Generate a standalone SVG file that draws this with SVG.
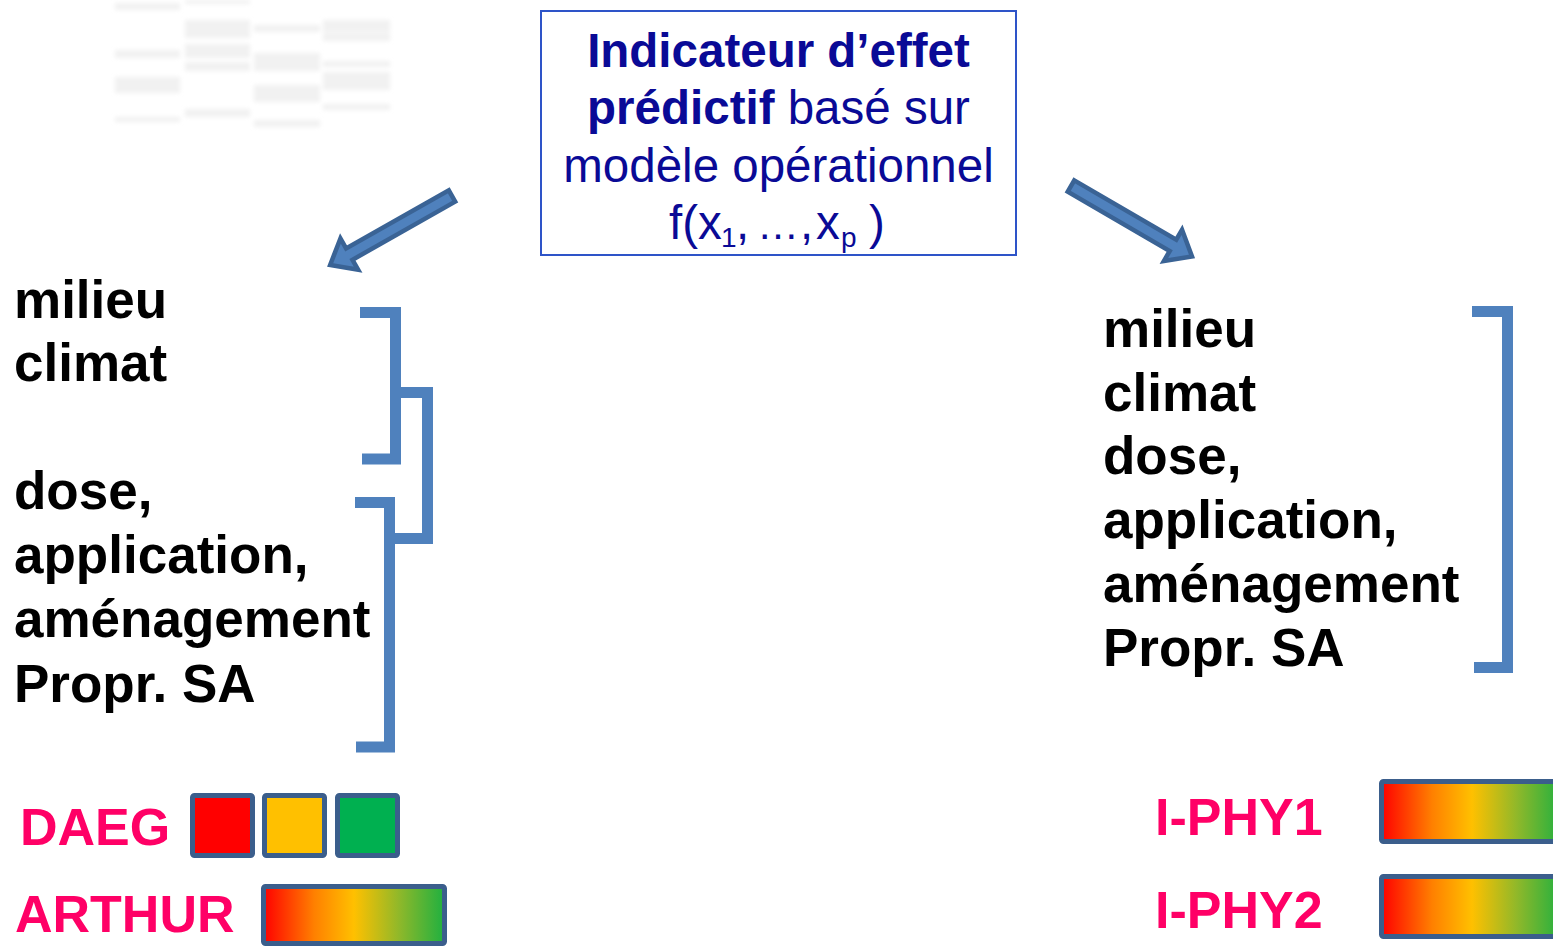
<svg xmlns="http://www.w3.org/2000/svg" width="1553" height="946" viewBox="0 0 1553 946">
  <style>
    .title { font-family: "Liberation Sans", Arial, sans-serif; font-size: 47.5px; fill: #0a0a96; }
    .b { font-weight: bold; }
    .sub { font-size: 28px; }
    .dots { font-size: 42px; }
    .var { font-family: "Liberation Sans", Arial, sans-serif; font-size: 53px; font-weight: bold; fill: #000000; }
    .ind { font-family: "Liberation Sans", Arial, sans-serif; font-size: 52px; font-weight: bold; fill: #ff0066; }
    .brace { fill: none; stroke: #4f81bd; stroke-width: 11; stroke-linejoin: miter; }
    .blk { fill: #4f81bd; stroke: #3a6395; stroke-width: 4.5; stroke-linejoin: miter; }
    .sw { stroke: #3b5e8c; stroke-width: 5; }
    .ghost { fill: #f1f1f1; }
  </style>
  <defs>
    <linearGradient id="scale" x1="0" y1="0" x2="1" y2="0">
      <stop offset="0" stop-color="#ff0000"/>
      <stop offset="0.28" stop-color="#ff8000"/>
      <stop offset="0.5" stop-color="#ffc000"/>
      <stop offset="0.75" stop-color="#8fb82a"/>
      <stop offset="1" stop-color="#1fb040"/>
    </linearGradient>
    <filter id="haze" x="-10%" y="-10%" width="120%" height="120%">
      <feGaussianBlur stdDeviation="2"/>
    </filter>
    <!-- block arrow pointing along +x, tail at the origin -->
    <polygon id="block-arrow" class="blk" points="0,-6.5 118,-6.5 118,-18 140,0 118,18 118,6.5 0,6.5"/>
  </defs>

  <!-- faint table in the top-left corner -->
  <g id="faint-table" class="ghost" filter="url(#haze)">
    <rect x="115" y="3" width="65" height="7"/>
    <rect x="115" y="50" width="65" height="8"/>
    <rect x="115" y="77" width="65" height="16"/>
    <rect x="115" y="117" width="65" height="5"/>
    <rect x="185" y="0" width="65" height="4"/>
    <rect x="185" y="20" width="65" height="18"/>
    <rect x="185" y="44" width="65" height="14"/>
    <rect x="185" y="62" width="65" height="9"/>
    <rect x="185" y="109" width="65" height="8"/>
    <rect x="254" y="25" width="66" height="7"/>
    <rect x="254" y="53" width="66" height="18"/>
    <rect x="254" y="85" width="66" height="17"/>
    <rect x="254" y="120" width="66" height="7"/>
    <rect x="323" y="20" width="67" height="12"/>
    <rect x="323" y="33" width="67" height="8"/>
    <rect x="323" y="61" width="67" height="6"/>
    <rect x="323" y="72" width="67" height="18"/>
    <rect x="323" y="104" width="67" height="6"/>
  </g>

  <!-- central indicator box -->
  <g id="indicator">
    <rect x="541" y="11" width="475" height="244" fill="#ffffff" stroke="#2e54c8" stroke-width="2"/>
    <text class="title b" x="778.5" y="67" text-anchor="middle">Indicateur d’effet</text>
    <text class="title" x="778.5" y="124" text-anchor="middle"><tspan class="b">prédictif</tspan> basé sur</text>
    <text class="title" x="778.5" y="182" text-anchor="middle">modèle opérationnel</text>
    <text class="title" y="239"><tspan x="669">f(x</tspan><tspan class="sub" x="721" y="247">1</tspan><tspan x="736" y="239">,</tspan><tspan class="dots" x="757">…</tspan><tspan x="800">,</tspan><tspan x="816">x</tspan><tspan class="sub" x="841" y="247">p</tspan><tspan x="869" y="239">)</tspan></text>
  </g>

  <!-- block arrows and bracket connectors -->
  <g id="connectors">
    <use href="#block-arrow" transform="translate(452,196) rotate(150.5)"/>
    <use href="#block-arrow" transform="translate(1071,186) rotate(30.2)"/>
    <path class="brace" d="M360,312.5 H395.5 V459 H362"/>
    <path class="brace" d="M395,392.5 H427.5 V538.5 H390"/>
    <path class="brace" d="M355,502.5 H389.5 V747 H356"/>
    <path class="brace" d="M1472,311.5 H1507.5 V667.5 H1474"/>
  </g>

  <!-- left variable list -->
  <g id="vars-left" class="var">
    <text x="14" y="318">milieu</text>
    <text x="14" y="381">climat</text>
    <text x="14" y="509">dose,</text>
    <text x="14" y="573">application,</text>
    <text x="14" y="637">aménagement</text>
    <text x="14" y="702">Propr. SA</text>
  </g>

  <!-- right variable list -->
  <g id="vars-right" class="var">
    <text x="1103" y="347">milieu</text>
    <text x="1103" y="411">climat</text>
    <text x="1103" y="474">dose,</text>
    <text x="1103" y="538">application,</text>
    <text x="1103" y="602">aménagement</text>
    <text x="1103" y="666">Propr. SA</text>
  </g>

  <!-- DAEG: three-class scale -->
  <g id="daeg">
    <text class="ind" x="20" y="845">DAEG</text>
    <rect class="sw" x="192.5" y="795.5" width="60" height="60" rx="2" fill="#ff0000"/>
    <rect class="sw" x="264.5" y="795.5" width="60" height="60" rx="2" fill="#ffc000"/>
    <rect class="sw" x="337.5" y="795.5" width="60" height="60" rx="2" fill="#00b050"/>
  </g>

  <!-- ARTHUR: continuous scale -->
  <g id="arthur">
    <text class="ind" x="15" y="932">ARTHUR</text>
    <rect class="sw" x="263.5" y="886.5" width="181" height="57" rx="2" fill="url(#scale)"/>
  </g>

  <!-- I-PHY1 -->
  <g id="iphy1">
    <text class="ind" x="1155" y="835">I-PHY1</text>
    <rect class="sw" x="1381.5" y="781.5" width="181" height="60" rx="2" fill="url(#scale)"/>
  </g>

  <!-- I-PHY2 -->
  <g id="iphy2">
    <text class="ind" x="1155" y="928">I-PHY2</text>
    <rect class="sw" x="1381.5" y="876.5" width="181" height="60" rx="2" fill="url(#scale)"/>
  </g>
</svg>
